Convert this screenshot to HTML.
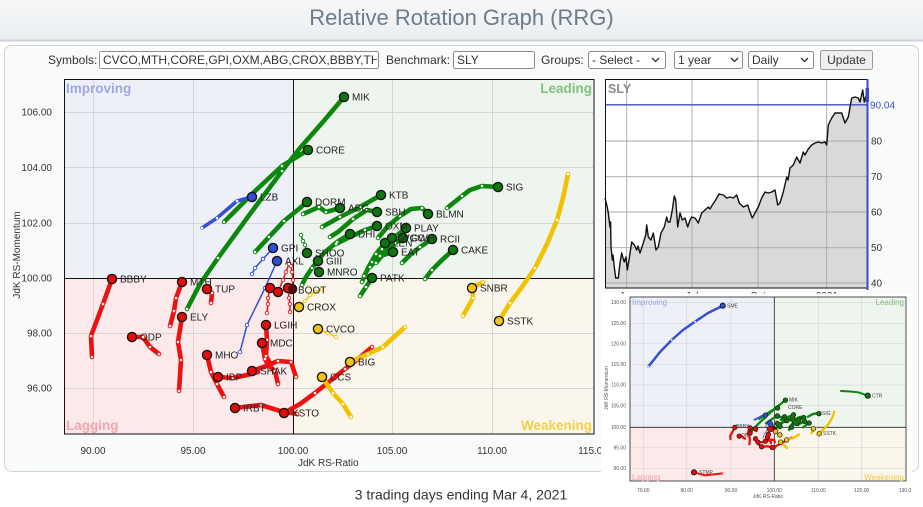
<!DOCTYPE html>
<html><head><meta charset="utf-8">
<style>
html,body{margin:0;padding:0;background:#fff;width:923px;height:507px;overflow:hidden}
svg{position:absolute;left:0;top:0}
svg text{font-family:"Liberation Sans",Arial,sans-serif}
.l{fill:none;stroke-linecap:round;stroke-linejoin:round;vector-effect:non-scaling-stroke}
.t5{stroke-width:calc(var(--k,1)*4.6px)}
.t35{stroke-width:calc(var(--k,1)*3.6px)}
.t1{stroke-width:calc(var(--k,1)*1.5px)}
.ho{stroke:#151515;stroke-width:calc(var(--k,1)*10.5px)}
.hi{stroke-width:calc(var(--k,1)*7.8px)}
.dw{stroke:#fff;stroke-width:2.6px}
.dr{stroke-width:4.4px}
.G{stroke:#0b870b}.B{stroke:#3550d8}.R{stroke:#ee1111}.Y{stroke:#f2c200}
.GH{stroke:#0f760f}.BH{stroke:#2f4ed6}.RH{stroke:#e60a0a}.YH{stroke:#f1c41a}.DH{stroke:#5a0c0c}
</style></head><body>
<svg width="923" height="507" viewBox="0 0 923 507" xmlns="http://www.w3.org/2000/svg">
<defs>
<linearGradient id="hg" x1="0" y1="0" x2="0" y2="1"><stop offset="0" stop-color="#f7f8f9"/><stop offset="1" stop-color="#eaedf0"/></linearGradient>
<clipPath id="symc"><rect x="100" y="52" width="277" height="16"/></clipPath>
</defs>

<!-- header -->
<rect x="0" y="0" width="923" height="40" fill="url(#hg)"/>
<line x1="0" y1="40.5" x2="923" y2="40.5" stroke="#cbd2d9" stroke-width="2"/>
<text x="461.5" y="25" text-anchor="middle" font-size="22" fill="#6e7c89">Relative Rotation Graph (RRG)</text>

<!-- container -->
<rect x="4.5" y="45.5" width="914" height="426" rx="7" fill="#f9fafa" stroke="#cfd3d6"/>

<!-- controls -->
<g font-size="12" fill="#333">
<text x="48" y="64">Symbols:</text>
<rect x="99.5" y="51.5" width="279" height="17" rx="2" fill="#fff" stroke="#8a8a8a"/>
<text x="103" y="64" clip-path="url(#symc)">CVCO,MTH,CORE,GPI,OXM,ABG,CROX,BBBY,THO</text>
<text x="386" y="64">Benchmark:</text>
<rect x="453.5" y="51.5" width="81" height="17" rx="2" fill="#fff" stroke="#8a8a8a"/>
<text x="457" y="64">SLY</text>
<text x="541" y="64">Groups:</text>
<rect x="588.5" y="51.5" width="77" height="17" rx="2" fill="#fff" stroke="#8a8a8a"/>
<text x="592" y="64">- Select -</text>
<rect x="674.5" y="51.5" width="68" height="17" rx="2" fill="#fff" stroke="#8a8a8a"/>
<text x="678" y="64">1 year</text>
<rect x="748.5" y="51.5" width="65" height="17" rx="2" fill="#fff" stroke="#8a8a8a"/>
<text x="752" y="64">Daily</text>
<rect x="820.5" y="50.5" width="52" height="19" rx="2" fill="#efefef" stroke="#9a9a9a"/>
<text x="846.5" y="64" text-anchor="middle">Update</text>
</g>
<g fill="none" stroke="#333" stroke-width="1.3">
<polyline points="652,58 655.5,61.5 659,58"/>
<polyline points="731,58 734.5,61.5 738,58"/>
<polyline points="801,58 804.5,61.5 808,58"/>
</g>

<!-- main quadrants -->
<rect x="64" y="79" width="229" height="199" fill="#eef0f8"/>
<rect x="293" y="79" width="301" height="199" fill="#eef4ee"/>
<rect x="64" y="278" width="229" height="156" fill="#fce9ea"/>
<rect x="293" y="278" width="301" height="156" fill="#faf6eb"/>
<g stroke="#d6d6d6" stroke-width="1">
<line x1="93.5" y1="79" x2="93.5" y2="434"/><line x1="193.5" y1="79" x2="193.5" y2="434"/>
<line x1="392.5" y1="79" x2="392.5" y2="434"/><line x1="492.5" y1="79" x2="492.5" y2="434"/>
<line x1="64" y1="112.5" x2="594" y2="112.5"/><line x1="64" y1="167.5" x2="594" y2="167.5"/>
<line x1="64" y1="223.5" x2="594" y2="223.5"/><line x1="64" y1="333.5" x2="594" y2="333.5"/>
<line x1="64" y1="388.5" x2="594" y2="388.5"/>
</g>
<g stroke="#111" stroke-width="1">
<line x1="293.5" y1="79" x2="293.5" y2="434"/>
<line x1="64" y1="278.5" x2="594" y2="278.5"/>
<rect x="64.5" y="79.5" width="529.5" height="354.5" fill="none"/>
</g>
<g font-weight="bold" font-size="13.5">
<text x="66" y="93" fill="#a0a8e4">Improving</text>
<text x="592" y="93" fill="#80c080" text-anchor="end">Leading</text>
<text x="66" y="430" fill="#f3a6ae">Lagging</text>
<text x="592" y="430" fill="#f2d04a" text-anchor="end">Weakening</text>
</g>
<g font-size="10" fill="#333">
<text x="52" y="115.5" text-anchor="end">106.00</text>
<text x="52" y="171" text-anchor="end">104.00</text>
<text x="52" y="226.5" text-anchor="end">102.00</text>
<text x="52" y="281.5" text-anchor="end">100.00</text>
<text x="52" y="336.5" text-anchor="end">98.00</text>
<text x="52" y="391.5" text-anchor="end">96.00</text>
<text x="93" y="454" text-anchor="middle">90.00</text>
<text x="193" y="454" text-anchor="middle">95.00</text>
<text x="293" y="454" text-anchor="middle">100.00</text>
<text x="392" y="454" text-anchor="middle">105.00</text>
<text x="492" y="454" text-anchor="middle">110.00</text>
<text x="593" y="454" text-anchor="middle">115.00</text>
<text x="298" y="466">JdK RS-Ratio</text>
<text transform="translate(20,255) rotate(-90)" text-anchor="middle">JdK RS-Momentum</text>
</g>

<!-- series lines -->
<g>
<g id="SL">
<path class="l t5 G" d="M344 97L322 123L300 148L282 171L250 214L218 258L200 284L187 309M308 150L282 166L253 193L224 222M307 202L300 208L284 221L269 237L255 252M340 208L326 212L319 207L303 214M381 195L360 207L340 217L322 227M377 212L367 210L353 219L338 232L330 237M498 187L482 186L470 190L462 196L447 208M428 214L422 208L411 209L400 216L388 226L378 238M377 226L365 230L350 237L336 244M406 228L396 236L385 247L372 262M350 234L337 242L325 252L316 262M392 238L382 249L372 262L364 276M385 243L376 254L368 268L362 282M403 238L395 243L385 252L376 263M432 239L420 247L410 255L402 263M393 252L380 256L370 267M453 250L442 260L432 270L425 279M372 278L366 287L360 296M318 261L312 268L306 277L302 285"/>
<path class="l t1 G" d="M307 253L305 245L303 241L301 235"/>
<path class="l t35 B" d="M252 197L237 201L217 218L202 228"/>
<path class="l t1 B" d="M273 248L263 259L255 268L252 274M277 261L273 270L265 288L247 325L240 352"/>
<path class="l t5 R" d="M112 279L103 304L91 336L92 357M182 282L176 298L174 311L170 326M207 289L212 293L211 303M182 317L178 342L181 360L179 391M132 337L143 337L150 347L159 354M207 355L211 372L217 384L224 397M218 377L233 378L247 375L258 372M252 371L266 366L278 361L291 362L296 377M266 325L267 340L266 356L270 363M262 343L265 359L268 365L275 371L278 384M235 408L261 405L280 411L297 414M284 413L300 404L315 393L330 381L345 369L358 359L372 347"/>
<path class="l t1 R" d="M270 288L268 298L268 304L267 313M278 292L283 280L286 272L289 264M288 288L289 298L290 304L290 312M292 289L293 280L292 272L291 266"/>
<path class="l t5 Y" d="M483 282L472 288L473 298L463 316M499 321L510 303L522 287L535 268L547 244L557 220L563 198L568 174M350 362L368 354L383 347L405 327M322 377L333 393L343 404L351 417"/>
<path class="l t1 Y" d="M299 307L305 301L310 295L315 292L322 289M318 329L328 333L336 337"/>
</g>
<!-- dots -->
<path class="l dr G" d="M305 245h.01M303 241h.01M301 235h.01"/>
<path class="l dr B" d="M263 259h.01M255 268h.01M252 274h.01M265 288h.01M247 325h.01M240 352h.01"/>
<path class="l dr R" d="M268 298h.01M268 304h.01M267 313h.01M283 280h.01M286 272h.01M289 264h.01M289 298h.01M290 304h.01M290 312h.01M293 280h.01M292 272h.01M291 266h.01"/>
<path class="l dr Y" d="M305 301h.01M310 295h.01M315 292h.01M322 289h.01M328 333h.01M336 337h.01"/>
<path class="l dw" d="M282 171h.01M218 258h.01M187 309h.01M282 166h.01M224 222h.01M284 221h.01M269 237h.01M255 252h.01M326 212h.01M319 207h.01M303 214h.01M360 207h.01M340 217h.01M322 227h.01M367 210h.01M353 219h.01M330 237h.01M482 186h.01M462 196h.01M447 208h.01M422 208h.01M400 216h.01M378 238h.01M365 230h.01M336 244h.01M396 236h.01M372 262h.01M337 242h.01M316 262h.01M382 249h.01M364 276h.01M376 254h.01M362 282h.01M395 243h.01M376 263h.01M420 247h.01M402 263h.01M380 256h.01M370 267h.01M432 270h.01M425 279h.01M366 287h.01M360 296h.01M312 268h.01M302 285h.01M305 245h.01M303 241h.01M301 235h.01M237 201h.01M217 218h.01M202 228h.01M263 259h.01M255 268h.01M252 274h.01M265 288h.01M247 325h.01M240 352h.01M103 304h.01M91 336h.01M92 357h.01M176 298h.01M174 311h.01M170 326h.01M212 293h.01M211 303h.01M178 342h.01M181 360h.01M179 391h.01M143 337h.01M150 347h.01M159 354h.01M211 372h.01M217 384h.01M224 397h.01M233 378h.01M278 361h.01M291 362h.01M296 377h.01M267 340h.01M266 356h.01M265 359h.01M275 371h.01M278 384h.01M261 405h.01M297 414h.01M315 393h.01M345 369h.01M372 347h.01M268 298h.01M268 304h.01M267 313h.01M283 280h.01M286 272h.01M289 264h.01M289 298h.01M290 304h.01M290 312h.01M293 280h.01M292 272h.01M291 266h.01M483 282h.01M473 298h.01M463 316h.01M510 303h.01M535 268h.01M557 220h.01M568 174h.01M368 354h.01M383 347h.01M405 327h.01M333 393h.01M343 404h.01M351 417h.01M305 301h.01M310 295h.01M315 292h.01M322 289h.01M328 333h.01M336 337h.01"/>
<!-- heads -->
<g id="HD">
<path class="l ho" d="M344 97h.01M308 150h.01M381 195h.01M307 202h.01M340 208h.01M377 212h.01M498 187h.01M428 214h.01M377 226h.01M406 228h.01M350 234h.01M392 238h.01M385 243h.01M403 238h.01M432 239h.01M393 252h.01M453 250h.01M372 278h.01M307 253h.01M318 261h.01M319 272h.01M252 197h.01M273 248h.01M277 261h.01M112 279h.01M182 282h.01M207 289h.01M182 317h.01M132 337h.01M207 355h.01M218 377h.01M252 371h.01M266 325h.01M262 343h.01M235 408h.01M284 413h.01M270 288h.01M278 292h.01M288 288h.01M292 289h.01M472 288h.01M499 321h.01M350 362h.01M322 377h.01M299 307h.01M318 329h.01"/>
<path class="l hi GH" d="M344 97h.01M308 150h.01M381 195h.01M307 202h.01M340 208h.01M377 212h.01M498 187h.01M428 214h.01M377 226h.01M406 228h.01M350 234h.01M392 238h.01M385 243h.01M403 238h.01M432 239h.01M393 252h.01M453 250h.01M372 278h.01M307 253h.01M318 261h.01M319 272h.01"/>
<path class="l hi BH" d="M252 197h.01M273 248h.01M277 261h.01"/>
<path class="l hi RH" d="M112 279h.01M182 282h.01M207 289h.01M182 317h.01M132 337h.01M207 355h.01M218 377h.01M252 371h.01M266 325h.01M262 343h.01M235 408h.01M284 413h.01M270 288h.01M278 292h.01M288 288h.01"/>
<path class="l hi DH" d="M292 289h.01"/>
<path class="l hi YH" d="M472 288h.01M499 321h.01M350 362h.01M322 377h.01M299 307h.01M318 329h.01"/>
</g>
</g>

<!-- labels -->
<g font-size="10" fill="#222">
<text x="352" y="100.5">MIK</text><text x="316" y="153.5">CORE</text><text x="389" y="198.5">KTB</text>
<text x="315" y="205.5">DORM</text><text x="348" y="211.5">ABG</text><text x="385" y="215.5">SBH</text>
<text x="506" y="190.5">SIG</text><text x="436" y="217.5">BLMN</text><text x="385" y="229.5">OXM</text>
<text x="414" y="231.5">PLAY</text><text x="358" y="237.5">DHI</text><text x="440" y="242.5">RCII</text>
<text x="401" y="255.5">EAT</text><text x="461" y="253.5">CAKE</text><text x="380" y="281.5">PATK</text>
<text x="315" y="256.5">SHOO</text><text x="326" y="264.5">GIII</text><text x="327" y="275.5">MNRO</text>
<text x="400" y="241.5">WGO</text><text x="393" y="246.5">LEN</text><text x="411" y="241.5">CWH</text>
<text x="260" y="200.5">LZB</text><text x="281" y="251.5">GPI</text><text x="285" y="264.5">AXL</text>
<text x="120" y="282.5">BBBY</text><text x="190" y="285.5">MTH</text><text x="215" y="292.5">TUP</text>
<text x="190" y="320.5">ELY</text><text x="140" y="340.5">ODP</text><text x="215" y="358.5">MHO</text>
<text x="226" y="380.5">IBP</text><text x="260" y="374.5">SHAK</text><text x="274" y="328.5">LGIH</text>
<text x="270" y="346.5">MDC</text><text x="243" y="411.5">IRBT</text><text x="292" y="416.5">KSTO</text>
<text x="298" y="293.5">BOOT</text><text x="307" y="310.5">CROX</text><text x="326" y="332.5">CVCO</text>
<text x="358" y="365.5">BIG</text><text x="330" y="380.5">CCS</text><text x="480" y="291.5">SNBR</text>
<text x="507" y="324.5">SSTK</text>
</g>

<!-- SLY chart -->
<rect x="605.5" y="79.5" width="262" height="208.5" fill="#fff"/>
<polygon fill="#d9d9d9" points="605,198 607,206 608.3,213 610,227 610.6,222 611,247 612.3,260 613,255 614.3,267 615.7,278 618.3,278 620,263 621.7,253 623,258 624.3,262 626,257 627.3,270 629.3,258 631.7,242 634.3,245 636.7,250 638,246 640,253 643.3,243 645.7,235 646.7,225 648.3,237 651,240 653.3,233 656,250 658.3,247 661,233 664.3,227 666.7,217 668,222 670,222 672.3,210 674.3,196 675.7,200 677.7,227 680,213 682.3,220 685,218 687.7,227 690,220 691.7,217 695,218 698.3,223 701.7,213 705,210 708.3,207 710,209 712.3,205 715.7,200 719,194 723.3,195 726.7,198 730,197 733.3,198 736.7,195 739.3,203 743.3,207 747.7,205 750,212 752.3,218 755,213 758.3,207 761.7,198 765,192 768.3,193 771.7,192 775,190 777.7,205 780,203 783.3,192 786.7,177 788,180 790,168 793.3,165 796.7,157 800,163 803.3,152 805,155 808.3,149 811.7,145 815,143 818.3,142 821.7,143 825,142 826.7,145 828.3,125 831.7,118 835,113 838.3,113 841.7,113 845,123 848.3,117 851.7,98 855,97 858.3,98 860,102 862.7,90 864.3,102 865.7,97 867.7,102 867.7,288 605,288"/>
<g stroke="#a8a8a8" stroke-width="0.9">
<line x1="605" y1="141" x2="867" y2="141"/><line x1="605" y1="176.7" x2="867" y2="176.7"/>
<line x1="605" y1="212" x2="867" y2="212"/><line x1="605" y1="247.7" x2="867" y2="247.7"/>
<line x1="605" y1="283" x2="867" y2="283"/>
<line x1="626.7" y1="79" x2="626.7" y2="288"/><line x1="692" y1="79" x2="692" y2="288"/>
<line x1="758" y1="79" x2="758" y2="288"/><line x1="826.7" y1="79" x2="826.7" y2="288"/>
</g>
<line x1="605" y1="104.8" x2="868" y2="104.8" stroke="#3a4acb" stroke-width="1.3"/>
<polyline fill="none" stroke="#111" stroke-width="1.4" stroke-linejoin="round" points="605,198 607,206 608.3,213 610,227 610.6,222 611,247 612.3,260 613,255 614.3,267 615.7,278 618.3,278 620,263 621.7,253 623,258 624.3,262 626,257 627.3,270 629.3,258 631.7,242 634.3,245 636.7,250 638,246 640,253 643.3,243 645.7,235 646.7,225 648.3,237 651,240 653.3,233 656,250 658.3,247 661,233 664.3,227 666.7,217 668,222 670,222 672.3,210 674.3,196 675.7,200 677.7,227 680,213 682.3,220 685,218 687.7,227 690,220 691.7,217 695,218 698.3,223 701.7,213 705,210 708.3,207 710,209 712.3,205 715.7,200 719,194 723.3,195 726.7,198 730,197 733.3,198 736.7,195 739.3,203 743.3,207 747.7,205 750,212 752.3,218 755,213 758.3,207 761.7,198 765,192 768.3,193 771.7,192 775,190 777.7,205 780,203 783.3,192 786.7,177 788,180 790,168 793.3,165 796.7,157 800,163 803.3,152 805,155 808.3,149 811.7,145 815,143 818.3,142 821.7,143 825,142 826.7,145 828.3,125 831.7,118 835,113 838.3,113 841.7,113 845,123 848.3,117 851.7,98 855,97 858.3,98 860,102 862.7,90 864.3,102 865.7,97 867.7,102"/>
<rect x="605.5" y="79.5" width="262" height="208.5" fill="none" stroke="#111"/>
<line x1="867.5" y1="79" x2="867.5" y2="290" stroke="#3a4acb" stroke-width="2"/>
<rect x="865.5" y="88" width="3.5" height="14" fill="#3a4acb"/>
<text x="608" y="93" font-size="12.5" font-weight="bold" fill="#8a8a8a">SLY</text>
<g font-size="10" fill="#333">
<text x="870" y="108.5" fill="#4050d0">90.04</text>
<text x="871" y="144.5">80</text><text x="871" y="180">70</text><text x="871" y="215.5">60</text>
<text x="871" y="251">50</text><text x="871" y="286.5">40</text>
<text x="627" y="299" text-anchor="middle">Apr</text><text x="692" y="299" text-anchor="middle">Jul</text>
<text x="758" y="299" text-anchor="middle">Oct</text><text x="827" y="299" text-anchor="middle">2021</text>
</g>

<!-- footer -->
<text x="461" y="499.5" text-anchor="middle" font-size="14" fill="#333">3 trading days ending Mar 4, 2021</text>

<!-- mini RRG -->
<rect x="601" y="293.5" width="311" height="207" fill="#fff"/>
<rect x="630" y="297" width="144.3" height="130.3" fill="#eef0f8"/>
<rect x="774.3" y="297" width="131.7" height="130.3" fill="#eef4ee"/>
<rect x="630" y="427.3" width="144.3" height="53.7" fill="#fce9ea"/>
<rect x="774.3" y="427.3" width="131.7" height="53.7" fill="#faf6eb"/>
<g stroke="#d8d8d8" stroke-width="0.7">
<line x1="643.3" y1="297" x2="643.3" y2="481"/><line x1="686.7" y1="297" x2="686.7" y2="481"/>
<line x1="731" y1="297" x2="731" y2="481"/><line x1="818.3" y1="297" x2="818.3" y2="481"/>
<line x1="861.7" y1="297" x2="861.7" y2="481"/>
<line x1="630" y1="302.3" x2="906" y2="302.3"/><line x1="630" y1="323.3" x2="906" y2="323.3"/>
<line x1="630" y1="343.7" x2="906" y2="343.7"/><line x1="630" y1="364.3" x2="906" y2="364.3"/>
<line x1="630" y1="385" x2="906" y2="385"/><line x1="630" y1="405.7" x2="906" y2="405.7"/>
<line x1="630" y1="447.7" x2="906" y2="447.7"/><line x1="630" y1="468.3" x2="906" y2="468.3"/>
</g>
<g stroke="#222" stroke-width="0.8" fill="none">
<line x1="774.3" y1="297" x2="774.3" y2="481"/>
<line x1="630" y1="427.3" x2="906" y2="427.3"/>
<rect x="630" y="297" width="276" height="184"/>
</g>
<g font-size="8">
<text x="632" y="305" fill="#9aa3e0">Improving</text>
<text x="904" y="305" fill="#80c080" text-anchor="end">Leading</text>
<text x="632" y="480" fill="#f3a0a8">Lagging</text>
<text x="904" y="480" fill="#f0cc40" text-anchor="end">Weakening</text>
</g>
<g font-size="5" fill="#555">
<text x="626" y="304" text-anchor="end">130.00</text><text x="626" y="325" text-anchor="end">125.00</text>
<text x="626" y="345.5" text-anchor="end">120.00</text><text x="626" y="366" text-anchor="end">115.00</text>
<text x="626" y="386.7" text-anchor="end">110.00</text><text x="626" y="407.4" text-anchor="end">105.00</text>
<text x="626" y="429" text-anchor="end">100.00</text><text x="626" y="449.4" text-anchor="end">95.00</text>
<text x="626" y="470" text-anchor="end">90.00</text>
<text x="643.3" y="492" text-anchor="middle">70.00</text><text x="686.7" y="492" text-anchor="middle">80.00</text>
<text x="731" y="492" text-anchor="middle">90.00</text><text x="774.3" y="492" text-anchor="middle">100.00</text>
<text x="818.3" y="492" text-anchor="middle">110.00</text><text x="861.7" y="492" text-anchor="middle">120.00</text>
<text x="905" y="492" text-anchor="middle">130.0</text>
<text x="768" y="498" text-anchor="middle">JdK RS-Ratio</text>
<text transform="translate(608,388) rotate(-90)" text-anchor="middle">JdK RS-Momentum</text>
</g>
<g style="--k:0.5">
<use href="#SL" transform="matrix(0.218 0 0 0.15 710.43 385.55)"/>
<use href="#HD" transform="matrix(0.218 0 0 0.15 710.43 385.55)"/>
</g>
<polyline fill="none" stroke="#3550d8" stroke-width="2.5" stroke-linecap="round" stroke-linejoin="round" points="648.3,366.7 660,352 671.7,340 683,330 695,321.7 708,313 722.7,305.7"/>
<polyline fill="none" stroke="#0b870b" stroke-width="2" stroke-linecap="round" points="841,391 850,391.5 858.3,392.3 867.7,395.7"/>
<polyline fill="none" stroke="#ee1111" stroke-width="2" stroke-linecap="round" points="694,472.3 705,475.3 715,474.3 723.3,473.3"/>
<g fill="#fff"><circle cx="648.3" cy="366.7" r="0.9"/><circle cx="671.7" cy="340" r="0.9"/><circle cx="695" cy="321.7" r="0.9"/><circle cx="723.3" cy="473.3" r="0.8"/></g>
<g stroke="#151515" stroke-width="0.9">
<circle cx="722.7" cy="305.7" r="2.6" fill="#2f4ed6"/>
<circle cx="867.7" cy="395.7" r="2.6" fill="#0f760f"/>
<circle cx="694" cy="472.3" r="2.6" fill="#e60a0a"/>
</g>
<g font-size="5" fill="#444">
<text x="727" y="307.5">SME</text><text x="872" y="397.5">CTR</text><text x="699" y="474">STMP</text>
<text x="789" y="401.5">MIK</text><text x="788" y="409">CORE</text><text x="822" y="415">SIG</text>
<text x="823" y="435">SSTK</text><text x="736" y="428">BBBY</text><text x="741" y="437">ODP</text>
</g>
</svg>
</body></html>
